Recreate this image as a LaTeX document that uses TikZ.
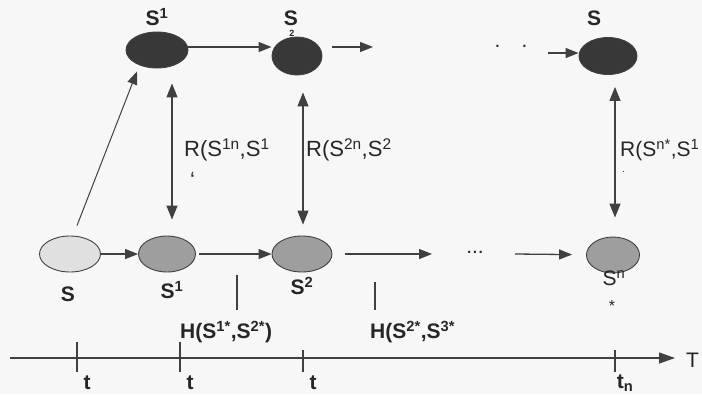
\documentclass[tikz,border=0pt]{standalone}
\usepackage{fontspec}
\setmainfont{Liberation Sans}
\usetikzlibrary{arrows.meta,shapes.geometric}

\newcommand{\sps}[1]{\textsuperscript{#1}}

\begin{document}
\begin{tikzpicture}[x=1pt, y=-1pt,
    st/.style={draw=black!75, ellipse, inner sep=0pt, minimum width=58pt, minimum height=36pt, line width=0.9pt},
    darkst/.style={st, fill=black!78},
    midst/.style={st, fill=black!38},
    inist/.style={st, fill=black!12},
    arr/.style={-{Triangle[length=13pt,width=10pt]}, line width=1.3pt, draw=black!75},
    darr/.style={{Triangle[length=14pt,width=11pt]}-{Triangle[length=14pt,width=11pt]}, line width=1.3pt, draw=black!75},
    ln/.style={line width=1.1pt, draw=black!75},
    lbl/.style={font=\fontsize{21}{23}\selectfont\bfseries, text=black!85, inner sep=0pt},
    rlbl/.style={font=\fontsize{22}{24}\selectfont, text=black!85, inner sep=0pt, anchor=west}
]
\fill[black!3] (0,0) rectangle (702,394);
\useasboundingbox (0,0) rectangle (702,394);
\clip (0,0) rectangle (702,394);

% top row
\node[darkst, minimum width=62pt] (t1) at (157,50) {};
\node[darkst, minimum width=50pt, minimum height=38pt] (t2) at (297,56) {};
\node[darkst, minimum width=58pt, minimum height=37pt] (tn) at (608,56) {};
\node[lbl] (lt1) at (157,17) {S\sps{1}};
\node[lbl] (lt2) at (291,18) {S};
\node[lbl, font=\fontsize{9}{9}\selectfont\bfseries] (lt2s) at (292,33) {2};
\node[lbl] (ltn) at (594,18) {S};
\coordinate (c1) at (373,47);
\coordinate (c4) at (548,53);
\node[lbl, font=\fontsize{21}{23}\selectfont] (tdots) at (511,46) {.\quad.};

% bottom row
\node[inist, minimum width=61pt] (b0) at (70,254) {};
\node[midst, minimum width=57pt] (b1) at (167,254) {};
\node[midst, minimum width=60pt] (b2) at (302,254) {};
\node[midst, minimum width=53pt] (bn) at (613,255) {};
\node[lbl] (lb0) at (68,294) {S};
\node[lbl] (lb1) at (172,290) {S\sps{1}};
\node[lbl] (lb2) at (302,286) {S\sps{2}};
\node[lbl, font=\fontsize{21}{23}\selectfont] (lbn) at (614,278) {S\sps{n}};
\node[lbl, font=\fontsize{16}{16}\selectfont] (lbns) at (612,306) {*};
\coordinate (c2) at (432,254);
\coordinate (c3) at (515,254);
\node[lbl, font=\fontsize{21}{23}\selectfont] (bdots) at (475,252) {...};

% relations
\node[rlbl] (r1) at (184,150) {R(S\sps{1n},S\sps{1}};
\node[rlbl] (r1b) at (190,180) {`};
\node[rlbl] (r2) at (306,150) {R(S\sps{2n},S\sps{2}};
\node[rlbl, font=\fontsize{21}{24}\selectfont] (rn) at (620,150) {R(S\sps{n*},S\sps{1}};
\node[rlbl, font=\fontsize{10}{10}\selectfont] (rnb) at (622,172) {.};

% H labels
\node[lbl, anchor=west] (h1) at (180,332) {H(S\sps{1*},S\sps{2*})};
\node[lbl, anchor=west] (h2) at (370,332) {H(S\sps{2*},S\sps{3*}};

\draw[arr] ([yshift=3pt]t1.east) -- ([yshift=3pt]t1.east -| t2.west);
\draw[arr, shorten <=10pt] (t2.east |- c1) -- (c1);
\draw[arr] (c4) -- (c4 -| tn.west);

\draw[arr] (b0) -- (b1);
\draw[arr, shorten <=3pt] (b1) -- (b2);
\draw[arr, shorten <=13pt] (b2) -- (c2);
\draw[arr, shorten >=14pt] (c3) -- (bn);

\draw[arr, line width=1pt] ([xshift=7pt,yshift=10pt]b0.north) -- ([xshift=-20pt,yshift=-3pt]t1.south);
\draw[darr] ([xshift=15pt,yshift=-15pt]t1.south) -- ([xshift=5pt,yshift=16pt]b1.north);
\draw[darr] ([xshift=6pt,yshift=-17pt]t2.south) -- ([xshift=1pt,yshift=11pt]b2.north);
\draw[darr] ([xshift=7pt,yshift=-12pt]tn.south) -- ([xshift=2pt,yshift=19pt]bn.north);

\draw[ln] ([xshift=57pt,yshift=22pt]h1.west) -- ([xshift=57pt,yshift=57pt]h1.west);
\draw[ln] ([xshift=5pt,yshift=22pt]h2.west) -- ([xshift=5pt,yshift=50pt]h2.west);

% time axis
\coordinate (ax0) at (10,358);
\coordinate (ax1) at (675,358);
\draw[arr, -{Triangle[length=16pt,width=11pt]}] (ax0) -- (ax1);
\node[lbl, anchor=west, font=\fontsize{21}{23}\selectfont] (tT) at (686,360) {T};
\foreach \x/\y/\lab [count=\i] in {77/342/t,180/342/t,303/350/t,615/350/t\textsubscript{n}} {
  \draw[ln] (\x,\y) -- (\x,372);
  \node[lbl] (tk\i) at (\x+10,383) {\lab};
}
\end{tikzpicture}
\end{document}
